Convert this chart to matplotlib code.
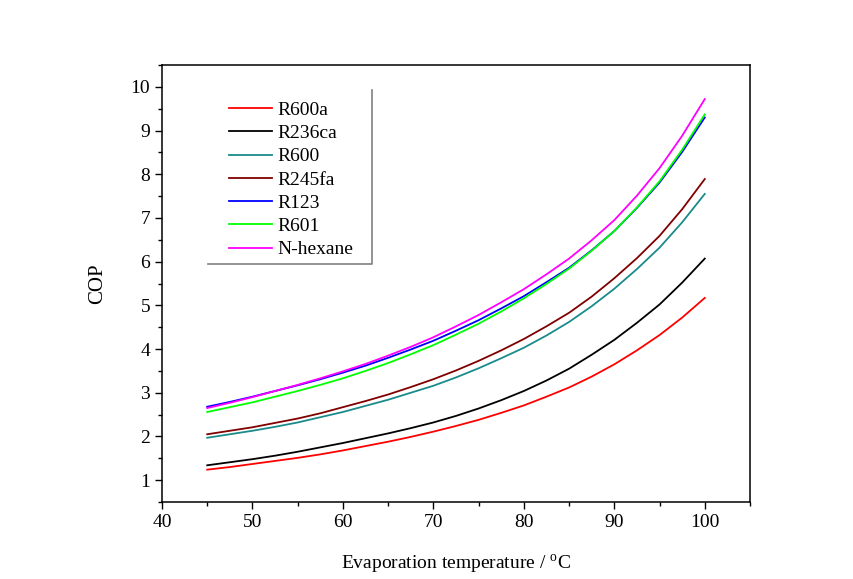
import matplotlib
matplotlib.use("Agg")
import matplotlib.pyplot as plt
from matplotlib.ticker import MultipleLocator
from matplotlib.lines import Line2D

plt.rcParams['font.family'] = ['Liberation Serif', 'DejaVu Serif']
plt.rcParams['mathtext.fontset'] = 'custom'
plt.rcParams['mathtext.rm'] = 'Liberation Serif'

temps = [45, 47.5, 50, 52.5, 55, 57.5, 60, 62.5, 65, 67.5, 70, 72.5,
         75, 77.5, 80, 82.5, 85, 87.5, 90, 92.5, 95, 97.5, 100]
r600a = [1.24, 1.30, 1.37, 1.44, 1.51, 1.59, 1.68, 1.78, 1.88, 1.99, 2.11, 2.24,
         2.38, 2.54, 2.71, 2.91, 3.12, 3.37, 3.65, 3.97, 4.32, 4.72, 5.17]
r236ca = [1.34, 1.41, 1.48, 1.56, 1.65, 1.75, 1.85, 1.96, 2.07, 2.19, 2.32, 2.47,
          2.64, 2.83, 3.04, 3.28, 3.55, 3.87, 4.21, 4.60, 5.02, 5.52, 6.07]
r600 = [1.97, 2.05, 2.13, 2.22, 2.32, 2.44, 2.56, 2.70, 2.84, 3.00, 3.16, 3.35,
        3.56, 3.79, 4.03, 4.31, 4.62, 4.98, 5.38, 5.83, 6.32, 6.90, 7.55]
r245fa = [2.05, 2.13, 2.21, 2.31, 2.41, 2.53, 2.67, 2.81, 2.96, 3.13, 3.31, 3.51,
          3.73, 3.97, 4.23, 4.52, 4.83, 5.20, 5.62, 6.08, 6.59, 7.20, 7.89]
r123 = [2.68, 2.79, 2.91, 3.04, 3.17, 3.31, 3.46, 3.62, 3.80, 3.99, 4.19, 4.42,
        4.66, 4.93, 5.21, 5.53, 5.86, 6.26, 6.70, 7.23, 7.81, 8.51, 9.30]
r601 = [2.56, 2.67, 2.78, 2.91, 3.04, 3.18, 3.33, 3.50, 3.68, 3.88, 4.09, 4.33,
        4.58, 4.86, 5.16, 5.49, 5.84, 6.25, 6.70, 7.24, 7.84, 8.56, 9.37]
nhexane = [2.65, 2.77, 2.90, 3.04, 3.18, 3.33, 3.49, 3.66, 3.85, 4.05, 4.27, 4.52,
           4.78, 5.07, 5.37, 5.71, 6.07, 6.49, 6.95, 7.51, 8.14, 8.88, 9.72]

labels = ['R600a', 'R236ca', 'R600', 'R245fa', 'R123', 'R601', 'N-hexane']
series = [r600a, r236ca, r600, r245fa, r123, r601, nhexane]
colors = ['#FF0000', '#000000', '#1A8A8A', '#800000', '#0000FF', '#00FF00', '#FF00FF']

fig = plt.figure(figsize=(8.54, 5.79), dpi=100)
ax = fig.add_axes([162/854, 1 - 502/579, 588/854, 437/579])

for lab, ys, c in zip(labels, series, colors):
    ax.plot(temps, ys, color=c, lw=1.3, label=lab)

ax.set_xlim(40, 105)
ax.set_ylim(0.5, 10.5)
ax.xaxis.set_major_locator(MultipleLocator(10))
ax.xaxis.set_minor_locator(MultipleLocator(5))
ax.yaxis.set_major_locator(MultipleLocator(1))
ax.yaxis.set_minor_locator(MultipleLocator(0.5))
ax.tick_params(which='both', direction='out', top=False, right=False, labelsize=14, width=1.0)
ax.tick_params(which='major', length=5)
ax.tick_params(which='minor', length=3)
for s in ax.spines.values():
    s.set_linewidth(1.1)

ax.set_xlabel(r'Evaporation temperature / $^{\mathrm{o}}$C', fontsize=14, labelpad=16)
ax.set_ylabel('COP', fontsize=15, labelpad=17)

leg = ax.legend(loc='upper left', bbox_to_anchor=(0.114, 0.917), frameon=False,
                fontsize=14, handlelength=2.2, handletextpad=0.3, labelspacing=0.29,
                borderpad=0, borderaxespad=0)

# partial legend frame (right and bottom edges)
ax.add_line(Line2D([0.078, 0.357, 0.357], [0.545, 0.545, 0.943], transform=ax.transAxes,
                   color='#808080', lw=1.2, clip_on=False))

fig.savefig('out.png', dpi=100)
